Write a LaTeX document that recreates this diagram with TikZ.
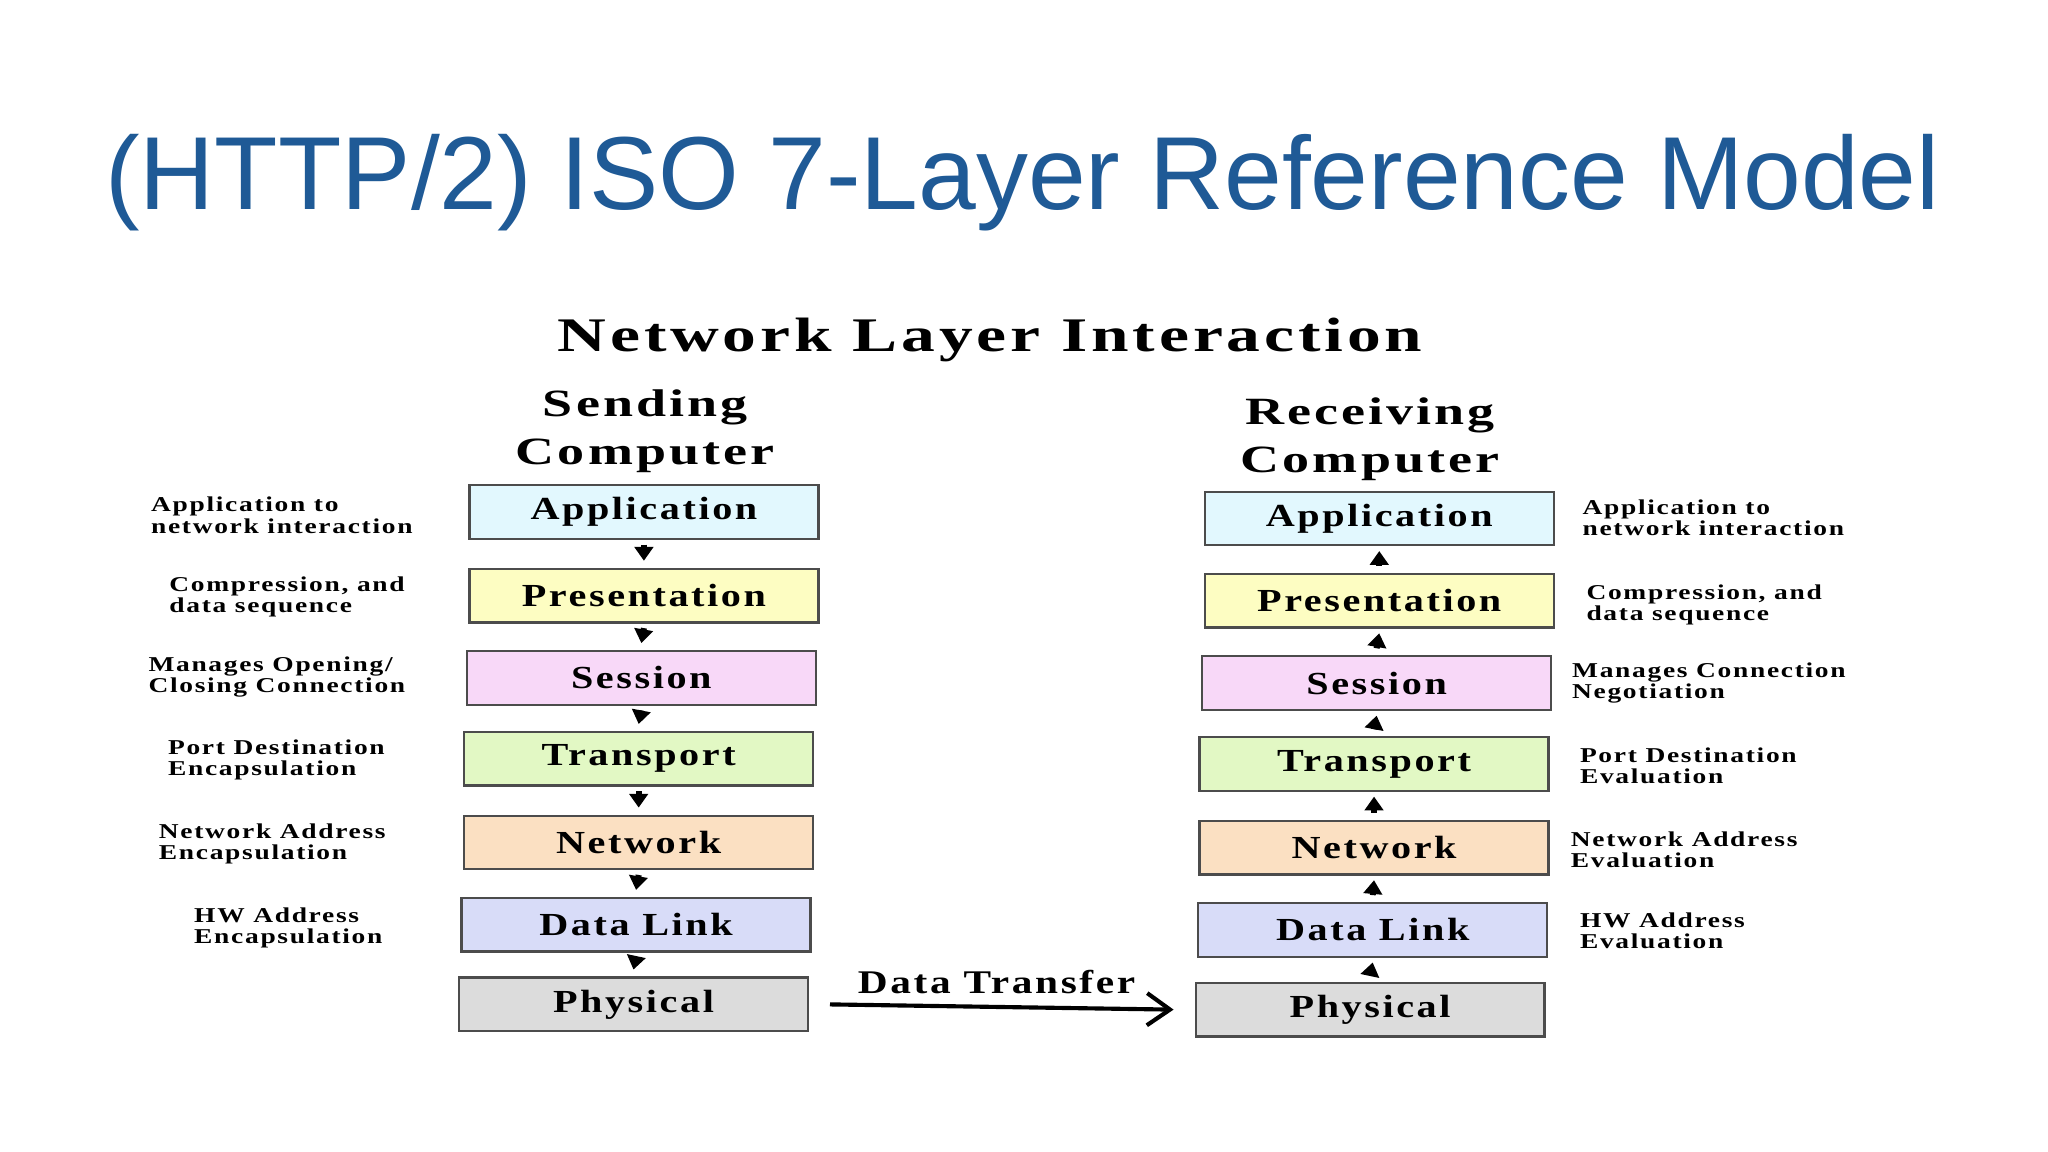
\documentclass[tikz,border=0pt]{standalone}
\usepackage{fontspec}
\setmainfont{Liberation Serif}
\newfontfamily\titlefont{Liberation Sans}
\newfontfamily\wide{Liberation Serif}[FakeStretch=1.25,LetterSpace=8]
\usetikzlibrary{arrows.meta}
\definecolor{titleblue}{HTML}{1F5A96}
\definecolor{cApp}{HTML}{E2F8FE}
\definecolor{cPre}{HTML}{FDFDC2}
\definecolor{cSes}{HTML}{F8D8F8}
\definecolor{cTra}{HTML}{E2F8C4}
\definecolor{cNet}{HTML}{FBE0C2}
\definecolor{cDat}{HTML}{D8DCF8}
\definecolor{cPhy}{HTML}{DCDCDC}
\begin{document}
\begin{tikzpicture}[x=0.01cm,y=-0.01cm,
  layer/.style={draw=black!70,line width=0.5pt,minimum width=2.67cm,minimum height=0.41cm,inner sep=0pt,
     font=\wide\fontsize{7.0}{8}\selectfont\bfseries},
  lab/.style={anchor=north west,align=left,inner sep=0pt,
     font=\wide\fontsize{4.6}{4.6}\selectfont\bfseries\addfontfeature{FakeStretch=1.3}},
  head/.style={align=center,inner sep=0pt,font=\wide\fontsize{8.4}{10.5}\selectfont\bfseries\addfontfeature{FakeStretch=1.4}},
  flow/.style={-{Triangle[length=3pt,width=4pt]},line width=1.3pt}]
\useasboundingbox (0,0) rectangle (1568,882);
\fill[white] (0,0) rectangle (1568,882);
\node[anchor=west,inner sep=0pt,text=titleblue,font=\titlefont\fontsize{22.6}{26}\selectfont] (title) at (80,140) {(HTTP/2) ISO 7-Layer Reference Model};
\node[head,font=\wide\fontsize{10.5}{12}\selectfont\bfseries\addfontfeature{FakeStretch=1.4}] (nli) at (758,260) {Network Layer Interaction};
\node[head] (snd) at (494,330) {Sending\\Computer};
\node[head] (rcv) at (1049,336) {Receiving\\Computer};
% sending
\node[layer,fill=cApp] (s1) at (493,392) {Application};
\node[layer,fill=cPre] (s2) at (493,456) {Presentation};
\node[layer,fill=cSes] (s3) at (491,519) {Session};
\node[layer,fill=cTra] (s4) at (489,581) {Transport};
\node[layer,fill=cNet] (s5) at (489,645) {Network};
\node[layer,fill=cDat] (s6) at (487,708) {Data Link};
\node[layer,fill=cPhy] (s7) at (485,769) {Physical};
% receiving
\node[layer,fill=cApp] (r1) at (1056,397) {Application};
\node[layer,fill=cPre] (r2) at (1056,460) {Presentation};
\node[layer,fill=cSes] (r3) at (1054,523) {Session};
\node[layer,fill=cTra] (r4) at (1052,585) {Transport};
\node[layer,fill=cNet] (r5) at (1052,649) {Network};
\node[layer,fill=cDat] (r6) at (1051,712) {Data Link};
\node[layer,fill=cPhy] (r7) at (1049,773) {Physical};
\foreach \a/\b in {s1/s2,s2/s3,s3/s4,s4/s5,s5/s6,s6/s7}
  \draw[flow] ([yshift=-1pt]\a.south) -- ([yshift=1.5pt]\b.north);
\foreach \a/\b in {r2/r1,r3/r2,r4/r3,r5/r4,r6/r5,r7/r6}
  \draw[flow] ([yshift=1.5pt]\a.north) -- ([yshift=-1pt]\b.south);
\draw[-{Straight Barb[length=5pt,width=7pt]},line width=0.9pt] ([xshift=0.16cm]s7.east) -- ([xshift=-0.16cm]r7.west);
\node[head,font=\wide\fontsize{7.2}{8}\selectfont\bfseries] (dtl) at (763,752) {Data Transfer};
% left labels
\node[lab] (l1) at (115,380) {Application to\\network interaction};
\node[lab] (l2) at (129,441) {Compression, and\\data sequence};
\node[lab] (l3) at (113,502) {Manages Opening/\\Closing Connection};
\node[lab] (l4) at (128,566) {Port Destination\\Encapsulation};
\node[lab] (l5) at (121,630) {Network Address\\Encapsulation};
\node[lab] (l6) at (148,694) {HW Address\\Encapsulation};
% right labels
\node[lab] (q1) at (1211,382) {Application to\\network interaction};
\node[lab] (q2) at (1214,447) {Compression, and\\data sequence};
\node[lab] (q3) at (1203,507) {Manages Connection\\Negotiation};
\node[lab] (q4) at (1209,572) {Port Destination\\Evaluation};
\node[lab] (q5) at (1202,636) {Network Address\\Evaluation};
\node[lab] (q6) at (1209,698) {HW Address\\Evaluation};
\end{tikzpicture}
\end{document}
